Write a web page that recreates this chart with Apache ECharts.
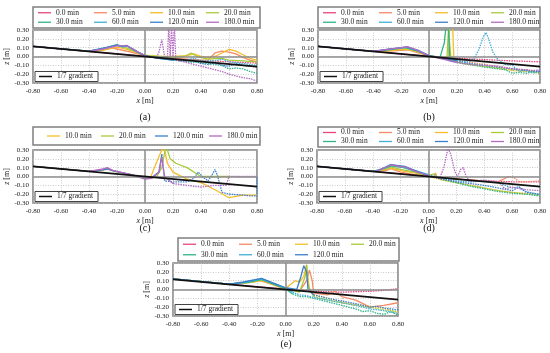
<!DOCTYPE html>
<html><head><meta charset="utf-8">
<script src="https://cdn.jsdelivr.net/npm/echarts@6/dist/echarts.min.js"></script>
<style>html,body{margin:0;padding:0;background:#fff}#c{width:550px;height:353px}</style>
</head><body><div id="c"></div>
<script>
// ---- tick labels / names ----
const xTicks = [-0.8, 0.8, 0.2];
const yTicks = [-0.3, 0.3, 0.1];
const names = ['0.0 min','5.0 min','10.0 min','20.0 min','30.0 min','60.0 min','120.0 min','180.0 min'];
const gradientLine = [[-0.8, 0.1143], [0.8, -0.1143]];

// ---- panel (a) ----
const a_0 = [[-0.8,0.115],[-0.6,0.087],[-0.4,0.058],[-0.2,0.03],[0,0.002],[0.2,-0.025],[0.4,-0.045],[0.6,-0.06],[0.8,-0.075]];
const a_5 = [[-0.8,0.115],[-0.6,0.087],[-0.4,0.058],[-0.32,0.07],[-0.25,0.1],[-0.2,0.085],[-0.1,0.05],[0,0.01],[0.1,-0.01],[0.2,-0.02],[0.3,-0.03],[0.4,-0.04],[0.45,-0.04],[0.5,0.04],[0.55,0.06],[0.6,0.05],[0.65,0.03],[0.7,-0.01],[0.75,-0.04],[0.8,-0.06]];
const a_10 = [[-0.8,0.115],[-0.6,0.087],[-0.4,0.058],[-0.3,0.07],[-0.2,0.105],[-0.15,0.09],[-0.05,0.04],[0,0.015],[0.1,0.0],[0.2,0.0],[0.3,0.01],[0.35,0.03],[0.4,0.0],[0.45,-0.01],[0.5,0.0],[0.55,0.04],[0.6,0.08],[0.65,0.06],[0.7,0.02],[0.75,-0.02],[0.8,-0.04]];
const a_20 = [[-0.8,0.115],[-0.6,0.087],[-0.4,0.058],[-0.3,0.08],[-0.21,0.13],[-0.15,0.11],[-0.05,0.04],[0,0.01],[0.1,0.0],[0.2,-0.01],[0.28,0.0],[0.33,0.04],[0.37,0.0],[0.45,-0.03],[0.55,-0.02],[0.6,-0.04],[0.7,-0.05],[0.8,-0.06]];
const a_30 = [[-0.8,0.115],[-0.6,0.087],[-0.4,0.06],[-0.3,0.09],[-0.2,0.135],[-0.16,0.11],[-0.13,0.12],[-0.05,0.05],[0,0.01],[0.1,-0.02],[0.2,-0.04],[0.3,-0.06],[0.4,-0.07],[0.5,-0.09],[0.55,-0.1],[0.6,-0.14],[0.65,-0.13],[0.7,-0.14],[0.75,-0.17],[0.8,-0.19]];
const a_60 = [[-0.8,0.115],[-0.6,0.087],[-0.4,0.06],[-0.3,0.09],[-0.2,0.13],[-0.16,0.11],[-0.13,0.12],[-0.05,0.05],[0,0.01],[0.1,-0.02],[0.2,-0.03],[0.3,-0.04],[0.35,-0.02],[0.4,-0.05],[0.5,-0.05],[0.55,-0.03],[0.6,-0.06],[0.7,-0.08],[0.8,-0.1]];
const a_120 = [[-0.8,0.115],[-0.6,0.087],[-0.4,0.06],[-0.3,0.095],[-0.2,0.13],[-0.17,0.115],[-0.13,0.125],[-0.05,0.05],[0,0.01],[0.1,-0.02],[0.2,-0.04],[0.3,-0.05],[0.35,-0.04],[0.4,-0.08],[0.45,-0.09],[0.5,-0.07],[0.55,-0.1],[0.6,-0.11],[0.65,-0.08],[0.7,-0.1],[0.8,-0.12]];
const a_180 = [[-0.8,0.115],[-0.6,0.087],[-0.4,0.058],[-0.3,0.085],[-0.2,0.12],[-0.13,0.12],[-0.05,0.05],[0,0.01],[0.08,-0.02],[0.1,0.05],[0.12,0.19],[0.14,0.0],[0.16,-0.02],[0.17,0.35],[0.18,0.0],[0.19,0.35],[0.2,0.0],[0.21,0.35],[0.22,-0.04],[0.3,-0.07],[0.4,-0.11],[0.5,-0.15],[0.55,-0.17],[0.6,-0.2],[0.65,-0.22],[0.7,-0.24],[0.75,-0.25],[0.8,-0.28]];

// ---- panel (b) ----
const b_0 = [[-0.8,0.115],[-0.4,0.058],[-0.2,0.03],[0,0.002],[0.2,-0.02],[0.4,-0.035],[0.6,-0.05],[0.8,-0.06]];
const b_5 = [[-0.8,0.115],[-0.4,0.058],[-0.3,0.06],[-0.2,0.07],[-0.15,0.075],[-0.05,0.03],[0,0.005],[0.1,-0.02],[0.2,-0.04],[0.4,-0.09],[0.6,-0.14],[0.7,-0.15],[0.8,-0.17]];
const b_10 = [[-0.8,0.115],[-0.4,0.058],[-0.3,0.065],[-0.17,0.085],[-0.1,0.06],[0,0.01],[0.1,-0.01],[0.14,0.0],[0.15,0.35],[0.17,0.35],[0.18,-0.05],[0.25,-0.08],[0.4,-0.11],[0.6,-0.16],[0.7,-0.17],[0.8,-0.19]];
const b_20 = [[-0.8,0.115],[-0.4,0.058],[-0.3,0.07],[-0.17,0.1],[-0.1,0.07],[0,0.01],[0.1,-0.02],[0.13,0.0],[0.14,0.3],[0.15,0.3],[0.16,-0.04],[0.25,-0.08],[0.4,-0.11],[0.6,-0.15],[0.8,-0.18]];
const b_30 = [[-0.8,0.115],[-0.4,0.058],[-0.3,0.075],[-0.17,0.1],[-0.08,0.06],[0,0.01],[0.08,-0.01],[0.1,0.1],[0.11,0.15],[0.12,0.3],[0.14,0.35],[0.15,-0.05],[0.25,-0.08],[0.4,-0.12],[0.55,-0.15],[0.6,-0.19],[0.65,-0.18],[0.7,-0.19],[0.75,-0.17],[0.8,-0.19]];
const b_60 = [[-0.8,0.115],[-0.4,0.058],[-0.3,0.08],[-0.16,0.105],[-0.08,0.07],[0,0.01],[0.1,-0.02],[0.2,-0.04],[0.28,-0.06],[0.32,-0.04],[0.36,0.08],[0.39,0.22],[0.41,0.27],[0.43,0.2],[0.46,0.05],[0.5,-0.04],[0.55,-0.09],[0.6,-0.1],[0.65,-0.17],[0.7,-0.15],[0.75,-0.19],[0.8,-0.16]];
const b_120 = [[-0.8,0.115],[-0.4,0.058],[-0.3,0.08],[-0.16,0.11],[-0.08,0.07],[0,0.01],[0.1,-0.02],[0.2,-0.05],[0.3,-0.08],[0.4,-0.1],[0.5,-0.12],[0.6,-0.14],[0.7,-0.16],[0.8,-0.17]];
const b_180 = [[-0.8,0.115],[-0.4,0.058],[-0.3,0.08],[-0.15,0.11],[-0.08,0.07],[0,0.005],[0.1,-0.03],[0.2,-0.07],[0.3,-0.09],[0.4,-0.1],[0.5,-0.11],[0.6,-0.14],[0.7,-0.15],[0.75,-0.16],[0.8,-0.15]];

// ---- panel (c) ----
const c_10 = [[-0.8,0.115],[-0.4,0.058],[-0.3,0.075],[-0.27,0.085],[-0.22,0.06],[-0.1,0.02],[0,-0.02],[0.04,-0.01],[0.08,0.15],[0.12,0.3],[0.14,0.3],[0.16,0.15],[0.2,0.05],[0.25,0.01],[0.3,-0.03],[0.4,-0.07],[0.5,-0.15],[0.6,-0.24],[0.7,-0.21],[0.8,-0.21]];
const c_20 = [[-0.8,0.115],[-0.4,0.058],[-0.3,0.075],[-0.27,0.09],[-0.22,0.06],[-0.1,0.02],[0,-0.02],[0.08,-0.01],[0.12,0.1],[0.15,0.35],[0.18,0.2],[0.22,0.15],[0.3,0.1],[0.38,0.02],[0.4,0.0],[0.6,0.0]];
const c_120 = [[-0.8,0.115],[-0.4,0.058],[-0.3,0.075],[-0.27,0.085],[-0.22,0.06],[-0.1,0.02],[0,-0.02],[0.05,-0.01],[0.1,0.05],[0.12,0.25],[0.13,0.1],[0.14,-0.05],[0.2,-0.06],[0.3,-0.06],[0.35,-0.02],[0.38,0.05],[0.41,0.0],[0.45,-0.05],[0.48,0.02],[0.5,0.08],[0.52,0.0],[0.55,-0.18],[0.6,-0.2],[0.7,-0.21],[0.75,-0.22],[0.8,-0.22],[0.8,0.0]];
const c_180 = [[-0.8,0.115],[-0.4,0.058],[-0.3,0.085],[-0.27,0.1],[-0.23,0.07],[-0.1,0.02],[0,-0.03],[0.05,-0.02],[0.1,0.05],[0.12,0.22],[0.14,0.0],[0.2,-0.08],[0.3,-0.1],[0.4,-0.12],[0.5,-0.1],[0.58,-0.1],[0.6,0.0],[0.8,0.0]];

// ---- panel (d) ----
const d_0 = [[-0.8,0.115],[-0.4,0.058],[-0.2,0.03],[0,0.0],[0.2,-0.03],[0.4,-0.05],[0.6,-0.06],[0.8,-0.06]];
const d_5 = [[-0.8,0.115],[-0.4,0.058],[-0.3,0.07],[-0.27,0.09],[-0.2,0.05],[-0.1,0.02],[0,0.0],[0.04,-0.01],[0.05,0.04],[0.06,-0.01],[0.2,-0.03],[0.4,-0.05],[0.5,-0.06],[0.55,-0.02],[0.58,0.0],[0.62,-0.02],[0.65,-0.06],[0.7,-0.06],[0.8,-0.05]];
const d_10 = [[-0.8,0.115],[-0.4,0.058],[-0.3,0.08],[-0.27,0.095],[-0.18,0.06],[-0.1,0.04],[0,0.0],[0.1,-0.04],[0.2,-0.07],[0.3,-0.1],[0.4,-0.13],[0.5,-0.16],[0.6,-0.18],[0.7,-0.19],[0.8,-0.2]];
const d_20 = [[-0.8,0.115],[-0.4,0.058],[-0.3,0.09],[-0.27,0.11],[-0.2,0.08],[-0.1,0.05],[0,0.01],[0.04,0.03],[0.05,0.0],[0.1,-0.04],[0.2,-0.07],[0.3,-0.1],[0.4,-0.13],[0.5,-0.16],[0.6,-0.18],[0.7,-0.2],[0.8,-0.21]];
const d_30 = [[-0.8,0.115],[-0.4,0.058],[-0.3,0.1],[-0.27,0.12],[-0.18,0.1],[-0.1,0.06],[0,0.01],[0.1,-0.03],[0.2,-0.07],[0.3,-0.11],[0.4,-0.14],[0.5,-0.17],[0.6,-0.19],[0.7,-0.2],[0.8,-0.22]];
const d_60 = [[-0.8,0.115],[-0.4,0.058],[-0.37,0.06],[-0.27,0.13],[-0.18,0.11],[-0.1,0.07],[0,0.02],[0.1,-0.02],[0.2,-0.05],[0.3,-0.06],[0.4,-0.05],[0.5,-0.07],[0.55,-0.1],[0.6,-0.13],[0.65,-0.12],[0.7,-0.17],[0.8,-0.21]];
const d_120 = [[-0.8,0.115],[-0.4,0.058],[-0.37,0.06],[-0.27,0.135],[-0.17,0.115],[-0.1,0.07],[0,0.01],[0.1,-0.03],[0.2,-0.06],[0.3,-0.08],[0.4,-0.1],[0.5,-0.13],[0.6,-0.16],[0.65,-0.12],[0.7,-0.18],[0.8,-0.2]];
const d_180 = [[-0.8,0.115],[-0.4,0.058],[-0.37,0.06],[-0.27,0.13],[-0.17,0.11],[-0.1,0.06],[0,0.01],[0.08,-0.02],[0.11,0.1],[0.14,0.32],[0.16,0.25],[0.19,0.05],[0.21,0.0],[0.23,0.08],[0.25,0.1],[0.27,0.0],[0.3,-0.06],[0.35,-0.05],[0.4,-0.04],[0.5,-0.06],[0.55,-0.14],[0.6,-0.12],[0.7,-0.15],[0.8,-0.16]];

// ---- panel (e) ----
const e_0 = [[-0.8,0.12],[-0.4,0.06],[-0.2,0.03],[0,0.005],[0.2,-0.02],[0.4,-0.03],[0.6,-0.02],[0.7,-0.01],[0.8,0.01]];
const e_5 = [[-0.8,0.12],[-0.4,0.06],[-0.25,0.08],[-0.18,0.1],[-0.1,0.06],[0,0.0],[0.1,-0.02],[0.15,0.1],[0.17,0.22],[0.19,0.1],[0.2,-0.04],[0.3,-0.06],[0.35,-0.02],[0.4,-0.08],[0.5,-0.12],[0.6,-0.2],[0.7,-0.18],[0.8,-0.15]];
const e_10 = [[-0.8,0.12],[-0.4,0.06],[-0.25,0.08],[-0.17,0.1],[-0.1,0.06],[0,0.01],[0.03,0.05],[0.07,0.1],[0.1,0.08],[0.13,0.15],[0.15,0.28],[0.16,0.3],[0.17,0.0],[0.2,-0.06],[0.3,-0.1],[0.4,-0.14],[0.5,-0.17],[0.6,-0.19],[0.7,-0.21],[0.8,-0.26]];
const e_20 = [[-0.8,0.12],[-0.4,0.06],[-0.25,0.08],[-0.17,0.11],[-0.1,0.07],[0,0.01],[0.1,-0.03],[0.14,0.15],[0.15,0.28],[0.16,0.05],[0.2,-0.08],[0.3,-0.12],[0.4,-0.15],[0.5,-0.18],[0.6,-0.2],[0.7,-0.23],[0.8,-0.25]];
const e_30 = [[-0.8,0.12],[-0.4,0.06],[-0.25,0.085],[-0.17,0.115],[-0.1,0.07],[0,0.01],[0.05,-0.05],[0.1,-0.08],[0.15,-0.08],[0.2,-0.1],[0.3,-0.14],[0.4,-0.18],[0.5,-0.22],[0.55,-0.25],[0.6,-0.24],[0.65,-0.27],[0.7,-0.28],[0.75,-0.25],[0.8,-0.29]];
const e_60 = [[-0.8,0.12],[-0.4,0.06],[-0.3,0.08],[-0.17,0.12],[-0.1,0.08],[0,0.02],[0.05,-0.03],[0.1,-0.06],[0.15,-0.07],[0.2,-0.09],[0.3,-0.12],[0.4,-0.15],[0.5,-0.18],[0.6,-0.22],[0.7,-0.24],[0.8,-0.27]];
const e_120 = [[-0.8,0.12],[-0.4,0.06],[-0.3,0.085],[-0.17,0.125],[-0.1,0.08],[0,0.02],[0.08,0.0],[0.11,0.15],[0.13,0.27],[0.15,0.2],[0.16,0.0],[0.2,-0.06],[0.3,-0.1],[0.4,-0.13],[0.5,-0.16],[0.6,-0.2],[0.65,-0.19],[0.7,-0.21],[0.8,-0.23]];

// ---- styling ----
const colors = {'0.0 min':'#e8457c','5.0 min':'#f58a67','10.0 min':'#f5bd2c','20.0 min':'#a6cb3a','30.0 min':'#2fb38b','60.0 min':'#44afd6','120.0 min':'#3b7fcc','180.0 min':'#b56ac2'};
const FONT = 'Liberation Serif';

const panels = [
  {label:'(a)', grid:{left:33,top:30,width:224,height:53}, box:[33,7,227,21], lab:[145,117],
   items:names, series:[a_0,a_5,a_10,a_20,a_30,a_60,a_120,a_180], split:[0.0,1,1,1,0.2,0.2,0.2,0.05]},
  {label:'(b)', grid:{left:318,top:30,width:222,height:53}, box:[318,7,222,21], lab:[429,117],
   items:names, series:[b_0,b_5,b_10,b_20,b_30,b_60,b_120,b_180], split:[0.0,0.2,0.2,0.2,0.2,0.2,0.2,0.2]},
  {label:'(c)', grid:{left:33,top:150,width:224,height:53}, box:[33,127,227,18], lab:[145,228],
   items:['10.0 min','20.0 min','120.0 min','180.0 min'], series:[c_10,c_20,c_120,c_180], split:[1,1,0.12,0.2]},
  {label:'(d)', grid:{left:317,top:150,width:223,height:53}, box:[318,127,222,20], lab:[429,228],
   items:names, series:[d_0,d_5,d_10,d_20,d_30,d_60,d_120,d_180], split:[0.0,0.6,0.05,0.05,0.05,0.05,0.05,0.05]},
  {label:'(e)', grid:{left:173,top:263,width:225,height:53}, box:[178,238,221,23], lab:[286,344],
   items:names.slice(0,7), series:[e_0,e_5,e_10,e_20,e_30,e_60,e_120], split:[0.0,1,0.2,0.2,0.05,0.05,0.2]}
];

const option = {animation:false, backgroundColor:'#fff', grid:[], xAxis:[], yAxis:[], series:[], legend:[], graphic:[]};
const txt = {fontFamily:FONT, fontSize:7, color:'#222'};
const lineIcon = 'path://M0,0H14V1.4H0Z';

panels.forEach((p, gi) => {
  option.grid.push(Object.assign({show:true, borderColor:'#7f7f7f', borderWidth:1.5, backgroundColor:'transparent'}, p.grid));
  option.xAxis.push({type:'value', gridIndex:gi, min:xTicks[0], max:xTicks[1], interval:xTicks[2],
    axisLine:{show:false}, axisTick:{show:false},
    axisLabel:Object.assign({margin:5, formatter:v=>v.toFixed(2)}, txt),
    splitLine:{show:true, lineStyle:{color:'#bdbdbd', type:[1,1.5], width:0.8}},
    name:'{i|x} [m]', nameLocation:'middle', nameGap:14,
    nameTextStyle:{fontFamily:FONT, fontSize:8, color:'#222', rich:{i:{fontFamily:FONT, fontSize:8, fontStyle:'italic', color:'#222'}}}});
  option.yAxis.push({type:'value', gridIndex:gi, min:yTicks[0], max:yTicks[1], interval:yTicks[2],
    axisLine:{show:false}, axisTick:{show:false},
    axisLabel:Object.assign({margin:4, formatter:v=>v.toFixed(2)}, txt),
    splitLine:{show:true, lineStyle:{color:'#bdbdbd', type:[1,1.5], width:0.8}},
    name:'{i|z} [m]', nameLocation:'middle', nameGap:22,
    nameTextStyle:{fontFamily:FONT, fontSize:8, color:'#222', rich:{i:{fontFamily:FONT, fontSize:8, fontStyle:'italic', color:'#222'}}}});
  // zero lines
  option.series.push({type:'line', xAxisIndex:gi, yAxisIndex:gi, data:[[0,0]], symbol:'none', lineStyle:{opacity:0}, z:1, silent:true,
    markLine:{silent:true, symbol:['none','none'], label:{show:false}, lineStyle:{color:'#8c8c8c', width:1.5, type:'solid'},
      data:[{xAxis:0},{yAxis:0}]}});
  // measured profiles
  p.series.forEach((data, k) => {
    const name = p.items[k], color = colors[name], split = p.split[k];
    const solid = data.filter(d => d[0] <= split + 1e-9);
    const rest = data.filter(d => d[0] > split + 1e-9);
    const dotted = rest.length ? [solid[solid.length-1]].concat(rest) : [];
    option.series.push({type:'line', name, xAxisIndex:gi, yAxisIndex:gi, data:solid, symbol:'none', showSymbol:false,
      lineStyle:{color, width:1.3}, itemStyle:{color}, z:3});
    if (dotted.length) option.series.push({type:'line', name, xAxisIndex:gi, yAxisIndex:gi, data:dotted, symbol:'none', showSymbol:false,
      lineStyle:{color, width:1.3, type:[1.5,1]}, itemStyle:{color}, z:3});
  });
  // 1/7 gradient
  option.series.push({type:'line', name:'1/7 gradient', xAxisIndex:gi, yAxisIndex:gi, data:gradientLine, symbol:'none', showSymbol:false,
    lineStyle:{color:'#111', width:1.8}, itemStyle:{color:'#111'}, z:5});

  // legend box
  const [bx, by, bw, bh] = p.box;
  option.graphic.push({type:'rect', shape:{x:bx, y:by, width:bw, height:bh}, style:{fill:'#fff', stroke:'#7f7f7f', lineWidth:1.5}, z:0});
  const legCommon = {itemWidth:13, itemHeight:6, itemGap:2, padding:0, selectedMode:false, width:260,
    textStyle:{fontFamily:FONT, fontSize:7.5, color:'#222', width:36, lineHeight:9}};
  if (p.items.length === 4) {
    option.legend.push(Object.assign({}, legCommon, {left:bx+14, top:by+bh/2-4.5, data:p.items.map(n=>({name:n, icon:lineIcon})), itemGap:2,
      textStyle:Object.assign({}, legCommon.textStyle, {width:34})}));
  } else {
    const r1 = p.items.slice(0,4), r2 = p.items.slice(4);
    const rowGap = (bh - 2) / 2;
    option.legend.push(Object.assign({}, legCommon, {left:bx+5, top:by+1+rowGap/2-4.5, data:r1.map(n=>({name:n, icon:lineIcon}))}));
    option.legend.push(Object.assign({}, legCommon, {left:bx+5, top:by+1+rowGap*1.5-4.5, data:r2.map(n=>({name:n, icon:lineIcon}))}));
  }
  // inner 1/7 gradient legend
  option.legend.push({left:p.grid.left+2, top:p.grid.top+p.grid.height-11.5, data:[{name:'1/7 gradient', icon:'path://M0,0H14V1.6H0Z'}],
    itemWidth:13, itemHeight:6, padding:[1,5,1,4], selectedMode:false, backgroundColor:'#fff', borderColor:'#444', borderWidth:1, z:10,
    textStyle:{fontFamily:FONT, fontSize:7.5, color:'#222', lineHeight:8}});
  // panel label
  option.graphic.push({type:'text', x:p.lab[0], y:p.lab[1], style:{text:p.label, font:'10px "Liberation Serif"', fill:'#111', textAlign:'center', textVerticalAlign:'middle'}});
});

const chart = echarts.init(document.getElementById('c'), null, {renderer:'canvas'});
chart.setOption(option);
</script></body></html>
